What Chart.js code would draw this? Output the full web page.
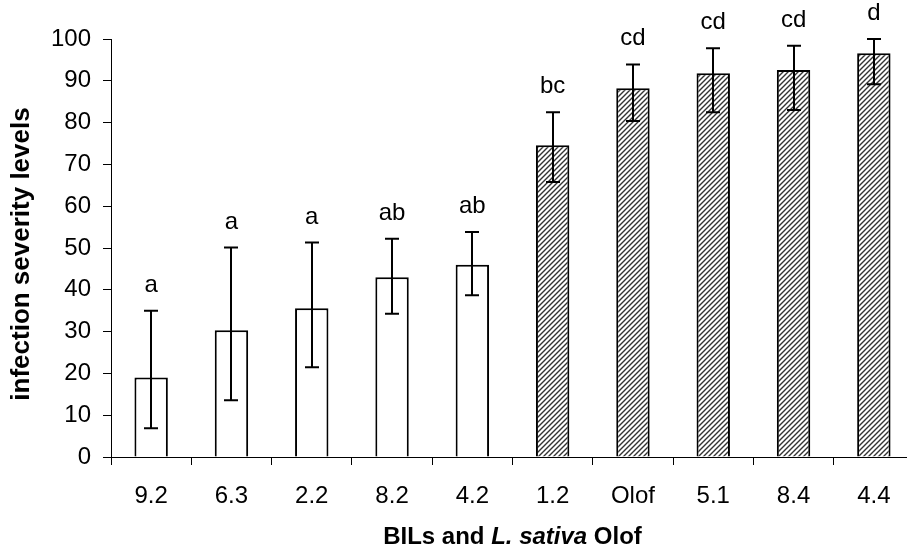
<!DOCTYPE html>
<html><head><meta charset="utf-8">
<script src="https://cdn.jsdelivr.net/npm/chart.js@4/dist/chart.umd.min.js"></script>
<style>
html,body{margin:0;padding:0;overflow:hidden;background:#fff;width:907px;height:554px}
#wrap{width:914px;height:554px;position:relative}
canvas{display:block}
</style>
</head><body><div id="wrap"><canvas id="c" width="914" height="554"></canvas></div>
<script>
// ---- data ----
const categories   = ['9.2','6.3','2.2','8.2','4.2','1.2','Olof','5.1','8.4','4.4'];
const severity     = [19.0, 30.3, 35.6, 43.0, 46.0, 74.6, 88.2, 91.8, 92.6, 96.6];
const errLow       = [ 6.9, 13.6, 21.5, 34.3, 38.7, 65.8, 80.4, 82.5, 83.0, 89.2];
const errHigh      = [35.0, 50.1, 51.3, 52.2, 53.8, 82.5, 93.9, 97.8, 98.4, 100.0];
const groupLetters = ['a','a','a','ab','ab','bc','cd','cd','cd','d'];
const hatched      = [false,false,false,false,false,true,true,true,true,true];
const yMin = 0, yMax = 100, yStep = 10;
const yTitle = 'infection severity levels';
const xTitleParts = [['BILs and ','bold'],['L. sativa','italic bold'],[' Olof','bold']];

const FONT = '"Liberation Sans", Arial, Helvetica, sans-serif';
const canvas = document.getElementById('c');
const ctx = canvas.getContext('2d');

function makeHatch(){
  const s = 5;
  const t = document.createElement('canvas');
  t.width = s; t.height = s;
  const g = t.getContext('2d');
  g.fillStyle = '#fff'; g.fillRect(0,0,s,s);
  g.strokeStyle = '#333'; g.lineWidth = 1.4;
  g.beginPath();
  g.moveTo(-1, s+1); g.lineTo(s+1, -1);
  g.moveTo(-1, 1); g.lineTo(1, -1);
  g.moveTo(s-1, s+1); g.lineTo(s+1, s-1);
  g.stroke();
  return ctx.createPattern(t, 'repeat');
}
const hatch = makeHatch();

const errorBars = {
  id: 'errorBars',
  afterDatasetsDraw(chart){
    const c = chart.ctx, y = chart.scales.y;
    const meta = chart.getDatasetMeta(0);
    c.save();
    c.strokeStyle = '#000'; c.lineWidth = 2;
    meta.data.forEach((bar, i) => {
      const x = Math.round(bar.x);
      const yl = y.getPixelForValue(errLow[i]);
      const yh = y.getPixelForValue(errHigh[i]);
      c.beginPath();
      c.moveTo(x, yl); c.lineTo(x, yh);
      c.moveTo(x-7, yl); c.lineTo(x+7, yl);
      c.moveTo(x-7, yh); c.lineTo(x+7, yh);
      c.stroke();
    });
    c.fillStyle = '#000';
    c.font = '24px ' + FONT;
    c.textAlign = 'center'; c.textBaseline = 'alphabetic';
    meta.data.forEach((bar, i) => {
      const yh = y.getPixelForValue(errHigh[i]);
      c.fillText(groupLetters[i], bar.x, yh - 19);
    });
    c.restore();
  }
};

const titles = {
  id: 'titles',
  afterDraw(chart){
    const c = chart.ctx, a = chart.chartArea;
    c.save();
    c.fillStyle = '#000'; c.textBaseline = 'middle'; c.textAlign = 'left';
    let total = 0;
    const widths = xTitleParts.map(([t, st]) => { c.font = st + ' 24px ' + FONT; const w = c.measureText(t).width; total += w; return w; });
    let x = (a.left + a.right)/2 - total/2;
    xTitleParts.forEach(([t, st], i) => { c.font = st + ' 24px ' + FONT; c.fillText(t, x, 537); x += widths[i]; });
    c.restore();
    c.save();
    c.translate(22, 254);
    c.rotate(-Math.PI/2);
    c.fillStyle = '#000'; c.textAlign = 'center'; c.textBaseline = 'middle';
    c.font = 'bold 26px ' + FONT;
    c.fillText(yTitle, 0, 0);
    c.restore();
  }
};

new Chart(ctx, {
  type: 'bar',
  data: {
    labels: categories,
    datasets: [{
      data: severity,
      backgroundColor: hatched.map(h => h ? hatch : '#fff'),
      borderColor: '#000',
      borderWidth: 2,
      barPercentage: 0.416,
      categoryPercentage: 1.0
    }]
  },
  options: {
    responsive: false,
    animation: false,
    devicePixelRatio: 1,
    layout: { padding: { top: 39, left: 0, right: 0, bottom: 0 } },
    plugins: { legend: { display: false }, tooltip: { enabled: false }, title: { display: false } },
    scales: {
      x: {
        offset: true,
        afterFit(s){ s.height = 97; },
        grid: { display: true, offset: true, drawOnChartArea: false, drawTicks: true, tickLength: 8, tickColor: '#000', tickWidth: 1 },
        border: { display: true, color: '#000', width: 1 },
        ticks: { color: '#000', font: { family: FONT, size: 24 }, padding: 17, maxRotation: 0, autoSkip: false }
      },
      y: {
        min: yMin, max: yMax,
        afterFit(s){ s.width = 111; },
        grid: { display: true, drawOnChartArea: false, drawTicks: true, tickLength: 8, tickColor: '#000', tickWidth: 1 },
        border: { display: true, color: '#000', width: 1 },
        ticks: { stepSize: yStep, color: '#000', font: { family: FONT, size: 24 }, padding: 12 }
      }
    }
  },
  plugins: [errorBars, titles]
});
</script>
</body></html>
